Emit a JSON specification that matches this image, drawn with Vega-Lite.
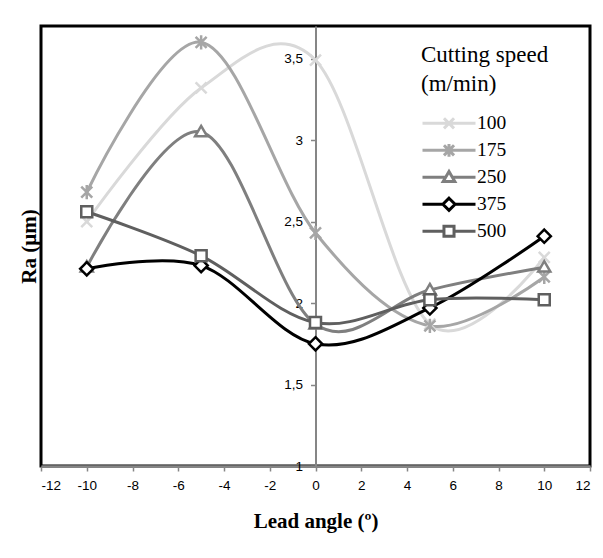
{
  "$schema": "https://vega.github.io/schema/vega-lite/v6.json",
  "width": 549,
  "height": 440,
  "autosize": {"type": "none"},
  "padding": {"left": 41, "top": 26, "right": 13, "bottom": 92},
  "background": "white",
  "config": {
    "view": {"stroke": "black", "strokeWidth": 3},
    "axis": {
      "labelFont": "Liberation Sans",
      "labelFontSize": 13.5,
      "labelColor": "black",
      "domainColor": "#868686",
      "tickColor": "#868686",
      "grid": false,
      "titleFont": "Liberation Serif",
      "titleFontSize": 21,
      "titleFontWeight": "bold",
      "titleColor": "black"
    },
    "point": {"filled": false, "fill": "white", "fillOpacity": 1, "opacity": 1, "strokeWidth": 2.5, "size": 121}
  },
  "data": {
    "values": [
      {"speed": "100", "angle": -10, "ra": 2.50},
      {"speed": "100", "angle": -5, "ra": 3.32},
      {"speed": "100", "angle": 0, "ra": 3.49},
      {"speed": "100", "angle": 5, "ra": 1.87},
      {"speed": "100", "angle": 10, "ra": 2.28},
      {"speed": "175", "angle": -10, "ra": 2.68},
      {"speed": "175", "angle": -5, "ra": 3.60},
      {"speed": "175", "angle": 0, "ra": 2.43},
      {"speed": "175", "angle": 5, "ra": 1.86},
      {"speed": "175", "angle": 10, "ra": 2.16},
      {"speed": "250", "angle": -10, "ra": 2.22},
      {"speed": "250", "angle": -5, "ra": 3.05},
      {"speed": "250", "angle": 0, "ra": 1.87},
      {"speed": "250", "angle": 5, "ra": 2.08},
      {"speed": "250", "angle": 10, "ra": 2.22},
      {"speed": "375", "angle": -10, "ra": 2.21},
      {"speed": "375", "angle": -5, "ra": 2.23},
      {"speed": "375", "angle": 0, "ra": 1.75},
      {"speed": "375", "angle": 5, "ra": 1.97},
      {"speed": "375", "angle": 10, "ra": 2.41},
      {"speed": "500", "angle": -10, "ra": 2.56},
      {"speed": "500", "angle": -5, "ra": 2.29},
      {"speed": "500", "angle": 0, "ra": 1.88},
      {"speed": "500", "angle": 5, "ra": 2.02},
      {"speed": "500", "angle": 10, "ra": 2.02}
    ]
  },
  "encoding": {
    "x": {
      "field": "angle",
      "type": "quantitative",
      "scale": {"domain": [-12, 12], "nice": false, "zero": false},
      "axis": {
        "values": [-12, -10, -8, -6, -4, -2, 0, 2, 4, 6, 8, 10, 12],
        "labelExpr": "(datum.value < 0 ? '-' : '') + abs(datum.value)",
        "title": "Lead angle (º)",
        "domainWidth": 2.5,
        "tickSize": 5,
        "tickWidth": 1.5,
        "labelPadding": 7,
        "titleBaseline": "alphabetic",
        "titleY": 61
      }
    },
    "y": {
      "field": "ra",
      "type": "quantitative",
      "scale": {"domain": [1, 3.7], "nice": false, "zero": false},
      "axis": {
        "values": [1, 1.5, 2, 2.5, 3, 3.5],
        "labelExpr": "replace(format(datum.value, '~g'), '.', ',')",
        "offset": -274.5,
        "domainWidth": 2,
        "tickSize": 5,
        "tickWidth": 1.5,
        "labelPadding": 8,
        "title": "Ra (µm)",
        "titleX": -286.5,
        "titleY": 220,
        "titleAngle": -90,
        "titleAlign": "center",
        "titleBaseline": "middle"
      }
    }
  },
  "layer": [
    {
      "mark": {"type": "line", "interpolate": "cardinal", "tension": 0, "strokeWidth": 3},
      "encoding": {
        "color": {
          "field": "speed",
          "type": "nominal",
          "scale": {
            "domain": ["100", "175", "250", "375", "500"],
            "range": ["#d9d9d9", "#a6a6a6", "#7f7f7f", "#000000", "#5f5f5f"]
          },
          "legend": {
            "orient": "none",
            "legendX": 380,
            "legendY": 18,
            "title": ["Cutting speed", "(m/min)"],
            "titleFont": "Liberation Serif",
            "titleFontSize": 23,
            "titleFontWeight": "normal",
            "titleColor": "black",
            "titleLineHeight": 29,
            "titlePadding": 14,
            "labelFont": "Liberation Serif",
            "labelFontSize": 19.5,
            "labelColor": "black",
            "labelOffset": 0,
            "symbolSize": 2809,
            "symbolStrokeWidth": 3,
            "clipHeight": 26.6,
            "rowPadding": 0,
            "encode": {
              "symbols": {
                "update": {
                  "shape": {"signal": "datum.value === '100' ? 'M-1,0H1M-0.19,-0.19L0.19,0.19M-0.19,0.19L0.19,-0.19' : datum.value === '175' ? 'M-1,0H1M-0.19,-0.19L0.19,0.19M-0.19,0.19L0.19,-0.19M0,-0.24V0.24' : datum.value === '250' ? 'M-1,0H-0.13M0.13,0H1M0,-0.22L0.22,0.16L-0.22,0.16Z' : datum.value === '375' ? 'M-1,0H-0.23M0.23,0H1M0,-0.23L0.23,0L0,0.23L-0.23,0Z' : 'M-1,0H-0.19M0.19,0H1M-0.19,-0.19H0.19V0.19H-0.19Z'"},
                  "fill": {"value": "white"},
                  "fillOpacity": {"value": 1},
                  "strokeWidth": {"value": 3},
                  "opacity": {"value": 1}
                }
              }
            }
          }
        }
      }
    },
    {
      "transform": [{"filter": "datum.speed === '100'"}],
      "mark": {"type": "point", "shape": "M-1,-1L1,1M-1,1L1,-1", "stroke": "#d9d9d9"}
    },
    {
      "transform": [{"filter": "datum.speed === '175'"}],
      "mark": {"type": "point", "shape": "M-1,-1L1,1M-1,1L1,-1M0,-1.3V1.3", "stroke": "#a6a6a6"}
    },
    {
      "transform": [{"filter": "datum.speed === '250'"}],
      "mark": {"type": "point", "shape": "M0,-1.1L1.1,0.8L-1.1,0.8Z", "stroke": "#7f7f7f"}
    },
    {
      "transform": [{"filter": "datum.speed === '375'"}],
      "mark": {"type": "point", "shape": "M0,-1.2L1.2,0L0,1.2L-1.2,0Z", "stroke": "#000000"}
    },
    {
      "transform": [{"filter": "datum.speed === '500'"}],
      "mark": {"type": "point", "shape": "M-1,-1H1V1H-1Z", "stroke": "#5f5f5f"}
    }
  ]
}
